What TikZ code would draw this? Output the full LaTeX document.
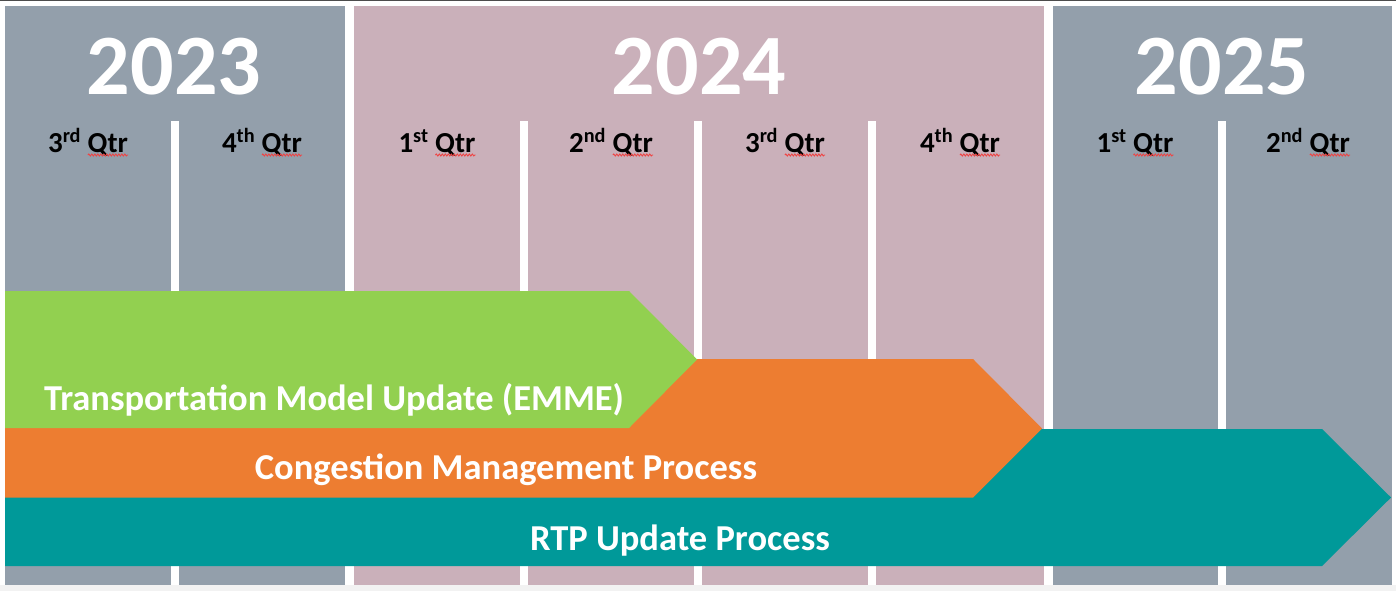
\documentclass[tikz,border=0pt]{standalone}
\usepackage{fontspec}
\setmainfont{Carlito}
\usetikzlibrary{calc,decorations.pathmorphing}
\definecolor{yeargray}{HTML}{939FAB}
\definecolor{yearpink}{HTML}{CAB0BA}
\definecolor{barGreen}{HTML}{92D050}
\definecolor{barOrange}{HTML}{ED7D31}
\definecolor{barTeal}{HTML}{009999}
\definecolor{spellred}{HTML}{EE4444}

\newcommand{\yearfont}{\fontsize{86}{90}\selectfont\bfseries}
\newcommand{\qtrfont}{\fontsize{29}{31}\selectfont\bfseries}
\newcommand{\barfont}{\fontsize{36.5}{38}\selectfont\bfseries}
\newlength\qtrw

\begin{document}
\settowidth{\qtrw}{\qtrfont Qtr}%
\begin{tikzpicture}[x=1pt,y=-1pt,
	year/.style={text=white,font=\yearfont,inner sep=0},
	quarter/.style={font=\qtrfont,inner sep=0,anchor=base},
	barlabel/.style={text=white,font=\barfont,inner sep=0,anchor=base},
	squiggle/.style={spellred,line width=0.9pt,decorate,
		decoration={snake,amplitude=1pt,segment length=3pt}}]
		\useasboundingbox (0,0) rectangle (1396,591);
		\fill[white] (0,0) rectangle (1396,591);
		\fill[black!70] (0,0) rectangle (1396,1.5);
		\fill[gray!10] (0,585) rectangle (1396,591);
		
		% year panels
		\fill[yeargray] (5,6) rectangle (345,585);
		\fill[yearpink] (354,6) rectangle (1044,585);
		\fill[yeargray] (1053,6) rectangle (1392,585);
		
		% quarter dividers
		\foreach \x in {171,520,694,868,1218}
			\fill[white] (\x,121) rectangle ++(8,464);
		
		\node[year] (y2023) at (174,67) {2023};
		\node[year] (y2024) at (699,67) {2024};
		\node[year] (y2025) at (1222,67) {2025};
		
		\node[quarter] (q3a) at (88,152) {3\textsuperscript{rd} Qtr};
		\node[quarter] (q4a) at (262,152) {4\textsuperscript{th} Qtr};
		\node[quarter] (q1b) at (437,152) {1\textsuperscript{st} Qtr};
		\node[quarter] (q2b) at (611,152) {2\textsuperscript{nd} Qtr};
		\node[quarter] (q3b) at (785,152) {3\textsuperscript{rd} Qtr};
		\node[quarter] (q4b) at (960,152) {4\textsuperscript{th} Qtr};
		\node[quarter] (q1c) at (1135,152) {1\textsuperscript{st} Qtr};
		\node[quarter] (q2c) at (1308,152) {2\textsuperscript{nd} Qtr};
		
		% spelling marks under Qtr
		\foreach \q in {q3a,q4a,q1b,q2b,q3b,q4b,q1c,q2c}
			\draw[squiggle] ($(\q.base east)+(-\qtrw,3)$) -- ($(\q.base east)+(0,3)$);
		
		% bars
		\fill[barTeal] (5,429) -- (1322,429) -- (1391,497.5) -- (1322,566) -- (5,566) -- cycle;
		\fill[barOrange] (5,359) -- (973,359) -- (1042,428.5) -- (973,497.5) -- (5,497.5) -- cycle;
		\fill[barGreen] (5,291) -- (629,291) -- (697,359.5) -- (629,428) -- (5,428) -- cycle;
		
		\node[barlabel] (emme) at (334,410) {Transportation Model Update (EMME)};
		\node[barlabel] (cmp) at (506,479) {Congestion Management Process};
		\node[barlabel] (rtp) at (680,550) {RTP Update Process};
	\end{tikzpicture}
\end{document}
